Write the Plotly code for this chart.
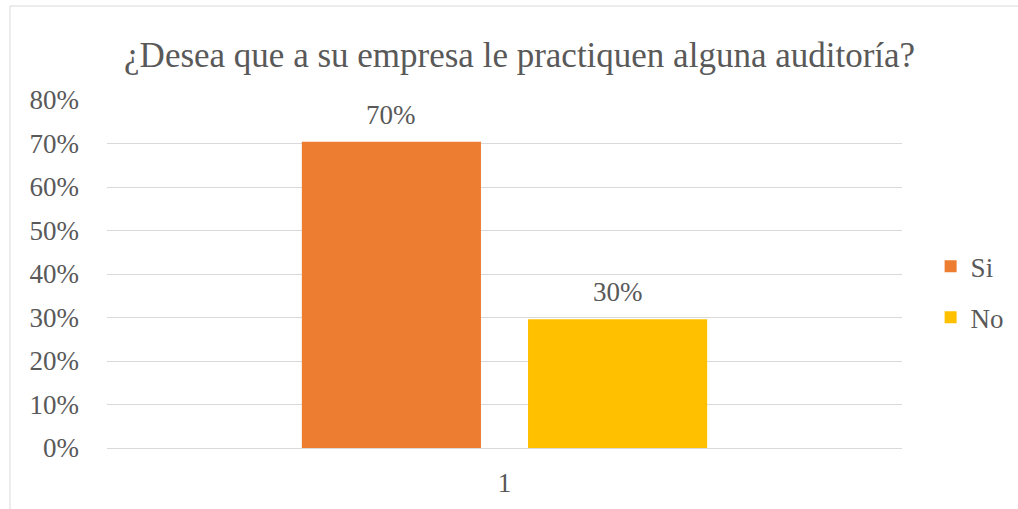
import plotly.graph_objects as go

categories = ["1"]
series_names = ["Si", "No"]
series_values = [[0.704], [0.296]]
series_colors = ["#ED7D31", "#FFC000"]
y_tick_vals = [0, 0.1, 0.2, 0.3, 0.4, 0.5, 0.6, 0.7, 0.8]
y_tick_text = ["0%", "10%", "20%", "30%", "40%", "50%", "60%", "70%", "80%"]
title_text = "¿Desea que a su empresa le practiquen alguna auditoría?"

FONT = "Liberation Serif"
GREY = "#595959"
W, H = 1018, 509
ML, MR, MT, MB = 107, 116, 100, 61
BARGAP = 0.431
GROUPGAP = 0.208

plot_w = W - ML - MR
slot_px = plot_w * (1 - BARGAP) / len(series_names)

fig = go.Figure()
annotations = []
for i, (name, vals, col) in enumerate(zip(series_names, series_values, series_colors)):
    fig.add_trace(go.Bar(
        x=categories, y=vals, name=name, marker_color=col,
        marker_line_width=0, legendgroup=name,
    ))
    offset = (i - (len(series_names) - 1) / 2) * slot_px
    for j, v in enumerate(vals):
        annotations.append(dict(
            x=j, y=v, xref="x", yref="y", text=f"{v:.0%}", showarrow=False,
            xanchor="center", yanchor="bottom", xshift=offset, yshift=10,
            font=dict(family=FONT, size=27, color=GREY),
        ))

# outer chart frame
frame_shapes = [
    dict(type="line", xref="paper", yref="paper", x0=-0.122, x1=-0.122, y0=-0.3, y1=1.2701,
         line=dict(color="#D9D9D9", width=1)),
    dict(type="line", xref="paper", yref="paper", x0=-0.122, x1=1.2, y0=1.2701, y1=1.2701,
         line=dict(color="#D9D9D9", width=1)),
]

fig.update_layout(
    width=W, height=H,
    margin=dict(l=ML, r=MR, t=MT, b=MB, autoexpand=False),
    paper_bgcolor="white", plot_bgcolor="white",
    barmode="group", bargap=BARGAP, bargroupgap=GROUPGAP,
    font=dict(family=FONT, size=27, color=GREY),
    title=dict(text=title_text, font=dict(family=FONT, size=35, color=GREY),
               xref="paper", x=0.519, xanchor="center",
               yref="container", y=0.892, yanchor="middle"),
    xaxis=dict(type="category", range=[-0.5, len(categories) - 0.5],
               showgrid=False, showline=False, zeroline=False, ticks="",
               ticklabelstandoff=16, tickfont=dict(family=FONT, size=27, color=GREY)),
    yaxis=dict(range=[0, 0.8], tickvals=y_tick_vals, ticktext=y_tick_text,
               showgrid=True, gridcolor="#D9D9D9", gridwidth=1.3,
               zeroline=True, zerolinecolor="#D9D9D9", zerolinewidth=1.3,
               showline=False, ticks="", ticklabelstandoff=27,
               tickfont=dict(family=FONT, size=27, color=GREY)),
    legend=dict(x=1.036, xanchor="left", y=0.448, yanchor="middle",
                font=dict(family=FONT, size=27, color=GREY),
                tracegroupgap=13, bgcolor="rgba(0,0,0,0)"),
    annotations=annotations,
    shapes=frame_shapes,
    showlegend=True,
)

fig.write_html("out.html", config={"displayModeBar": False},
               post_script="document.body.style.margin='0px';")
